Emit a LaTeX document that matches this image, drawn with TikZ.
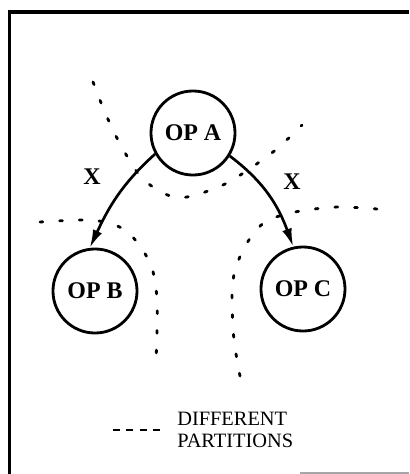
\documentclass[tikz,border=0pt]{standalone}
\usepackage{fontspec}
\setmainfont{Liberation Serif}
\usetikzlibrary{arrows.meta,positioning}

\begin{document}
\begin{tikzpicture}[
    x=0.025cm, y=-0.025cm,
    every node/.style={font=\fontsize{17}{19}\selectfont\bfseries},
    opnode/.style={circle, draw, line width=2pt, minimum size=2.1cm, inner sep=0pt},
    arrow/.style={-{Latex[length=13pt,width=7pt]}, line width=1.9pt},
    partition/.style={line width=2pt, dash pattern=on 2pt off 12pt, line cap=round},
    legendline/.style={line width=1.6pt, dash pattern=on 5pt off 4.5pt},
    edgelabel/.style={font=\fontsize{17}{18}\selectfont\bfseries},
]
\useasboundingbox (0,0) rectangle (409,474);
% frame
\draw[line width=2.2pt] (9.5,474) -- (9.5,12) -- (409,12);
\draw[gray!70, line width=0.8pt] (300,473) -- (409,473);

\node[opnode] (opa) at (193,133) {OP A};
\node[opnode] (opb) at (95,291) {OP B};
\node[opnode] (opc) at (303,289) {OP C};

\draw[arrow] (opa.209) to[out=222, in=65] (opb.97);
\draw[arrow] (opa.328) to[out=-37, in=110] (opc.103);
\node[edgelabel] (xab) at (92,177) {X};
\node[edgelabel] (xac) at (292,182) {X};

% partitions
\draw[partition] plot[smooth] coordinates {(93,82) (104,110) (118,140) (140,176) (165,194) (187,197) (227,183) (273,152) (302,125)};
\draw[partition] plot[smooth] coordinates {(40,222) (80,220) (105,222) (125,230) (140,246) (152,268) (157,298) (157,330) (156,362)};
\draw[partition] plot[smooth] coordinates {(377,209) (337,207) (295,212) (265,222) (247,243) (235,270) (232,298) (234,340) (240,376)};

% legend
\node[anchor=west, align=left, inner sep=0pt, font=\fontsize{14.5}{15.5}\selectfont] (legend) at (177,430) {DIFFERENT\\PARTITIONS};
\draw[legendline] (legend.west) ++(-17,0) -- ++(-47,0);
\end{tikzpicture}
\end{document}
